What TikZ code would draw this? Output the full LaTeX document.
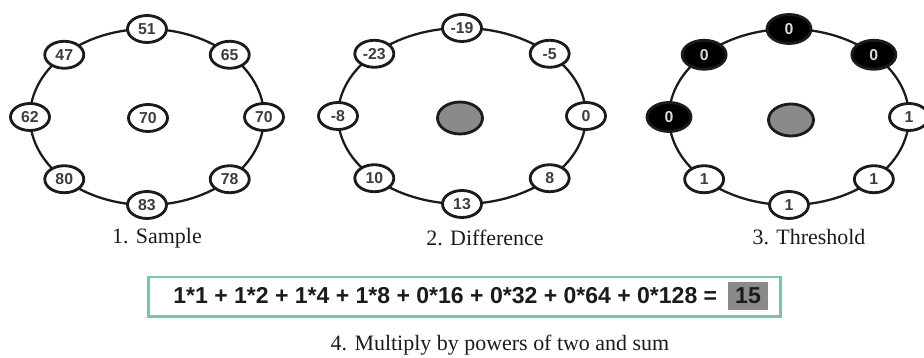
\documentclass[tikz,border=0pt]{standalone}
\usepackage{fontspec}
\setmainfont{Liberation Serif}
\setsansfont{Liberation Sans}
\usepackage{xcolor}
\usepackage{tikz}
\usetikzlibrary{positioning,shapes.geometric}
\definecolor{ink}{HTML}{1B1B1B}
\definecolor{hubgray}{HTML}{8A8A8A}
\definecolor{sTeal}{HTML}{74C6B1}
\tikzset{
  nbr/.style={ellipse, draw=ink, line width=1.6pt, fill=white, minimum width=0.78cm, minimum height=0.54cm, inner sep=0pt, font=\sffamily\bfseries\fontsize{9}{9}\selectfont, text=ink!85},
  lbl/.style={font=\fontsize{12.5}{13}\selectfont, text=ink},
}
\begin{document}
\begin{tikzpicture}[x=0.02cm, y=0.02cm,
  ring/.style={ink, line width=1.3pt},
  zero/.style={nbr, fill=black, minimum width=0.88cm, minimum height=0.58cm, text=white!85!black},
  hub/.style={ellipse, draw=ink, line width=1.6pt, fill=hubgray, minimum width=0.9cm, minimum height=0.64cm}]
\useasboundingbox (0,0) rectangle (924,358);
% 1. sample
\coordinate (s) at (147,241);
\draw[ring] (s) ellipse [x radius=117, y radius=88];
\node[nbr] (sc) at (148,240) {70};
\begin{scope}[shift={(s)}]
\node[nbr] (s0) at (0:117 and 88) {70}; \node[nbr] (s1) at (45:117 and 88) {65};
\node[nbr] (s2) at (90:117 and 88) {51}; \node[nbr] (s3) at (135:117 and 88) {47};
\node[nbr] (s4) at (180:117 and 88) {62}; \node[nbr] (s5) at (225:117 and 88) {80};
\node[nbr] (s6) at (270:117 and 88) {83}; \node[nbr] (s7) at (315:117 and 88) {78};
\end{scope}
\node[lbl] (lbl1) at (157,120) {1. Sample};
% 2. difference
\coordinate (d) at (462,242);
\draw[ring] (d) ellipse [x radius=124, y radius=88];
\node[hub] (dc) at (460,240) {};
\begin{scope}[shift={(d)}]
\node[nbr] (d0) at (0:124 and 88) {0}; \node[nbr] (d1) at (45:124 and 88) {-5};
\node[nbr] (d2) at (90:124 and 88) {-19}; \node[nbr] (d3) at (135:124 and 88) {-23};
\node[nbr] (d4) at (180:124 and 88) {-8}; \node[nbr] (d5) at (225:124 and 88) {10};
\node[nbr] (d6) at (270:124 and 88) {13}; \node[nbr] (d7) at (315:124 and 88) {8};
\end{scope}
\node[lbl] (lbl2) at (485,120) {2. Difference};
% 3. threshold
\coordinate (t) at (789,241);
\draw[ring] (t) ellipse [x radius=120, y radius=88];
\node[hub] (tc) at (791,238) {};
\begin{scope}[shift={(t)}]
\node[nbr] (t0) at (0:120 and 88) {1}; \node[zero] (t1) at (45:120 and 88) {0};
\node[zero] (t2) at (90:120 and 88) {0}; \node[zero] (t3) at (135:120 and 88) {0};
\node[zero] (t4) at (180:120 and 88) {0}; \node[nbr] (t5) at (225:120 and 88) {1};
\node[nbr] (t6) at (270:120 and 88) {1}; \node[nbr] (t7) at (315:120 and 88) {1};
\end{scope}
\node[lbl] (lbl3) at (809,121) {3. Threshold};
% 4. sum
\node[draw=sTeal, line width=1.7pt, fill=white, minimum width=12.66cm, minimum height=0.8cm] (sumbox) at (464.5,61) {};
\node[anchor=west, inner sep=0pt, font=\sffamily\bfseries\fontsize{13.1}{14}\selectfont, text=ink] (expr) at (173,62)
  {1*1 + 1*2 + 1*4 + 1*8 + 0*16 + 0*32 + 0*64 + 0*128 =};
\node[fill=hubgray, minimum width=0.8cm, minimum height=0.56cm, inner sep=0pt, font=\sffamily\bfseries\fontsize{13.1}{14}\selectfont, text=ink] (res) at (748,62) {15};
\node[lbl] (lbl4) at (500,13) {4. Multiply by powers of two and sum};
\end{tikzpicture}
\end{document}
